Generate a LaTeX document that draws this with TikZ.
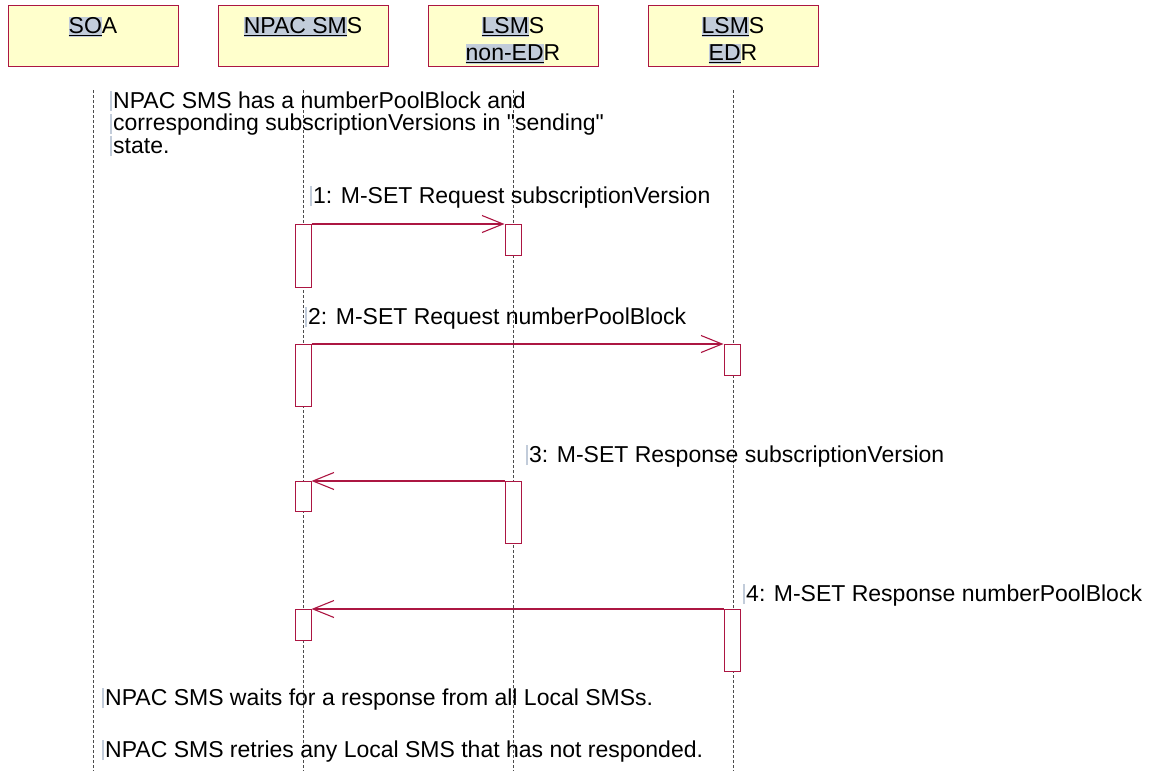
\documentclass[tikz,border=0pt]{standalone}
\usepackage{fontspec}
\setmainfont{Liberation Sans}[Ligatures=TeXOff]
\usetikzlibrary{arrows.meta}

\definecolor{umlred}{RGB}{172,22,66}
\definecolor{boxyellow}{RGB}{255,255,204}
\definecolor{hlgrey}{RGB}{194,204,218}

% highlighted and underlined part of a head text
\newsavebox\hlbox
\newcommand\hlpart[1]{\sbox\hlbox{#1}\begingroup\setlength{\fboxsep}{0pt}%
  \colorbox{hlgrey}{\rlap{\rule[-2.6pt]{\wd\hlbox}{1pt}}\rule[-3.5pt]{0pt}{20pt}\usebox\hlbox}\endgroup}
% light cursor mark in front of a text line
\newcommand\caret{\llap{\textcolor{hlgrey}{\rule[-3pt]{1.2pt}{20pt}}\hspace{1.6pt}}}

\tikzset{
  head/.style={draw=umlred, line width=1pt, fill=boxyellow,
    minimum width=170pt, minimum height=61pt, inner sep=0pt},
  headtext/.style={anchor=north, inner sep=0pt, yshift=-12pt, align=center,
    font=\fontsize{23}{27}\selectfont},
  lifeline/.style={draw=black!70, line width=0.8pt, dash pattern=on 3pt off 2pt},
  activation/.style={draw=umlred, line width=1pt, fill=white,
    minimum width=16pt, inner sep=0pt, anchor=north},
  msg/.style={draw=umlred, line width=1.1pt, -{Straight Barb[length=21pt,width=17pt]}},
  msgtext/.style={anchor=base west, inner sep=0pt},
  note/.style={anchor=base west, inner sep=0pt, align=left,
    font=\fontsize{23}{22.5}\selectfont}
}

\begin{document}
\begin{tikzpicture}[x=1pt, y=-1pt, font=\fontsize{23}{25}\selectfont]
    \useasboundingbox (0,0) rectangle (1150,771);

    % Objekte
    \node[head] (soa)   at (93,35.5)  {};
    \node[head] (npac)  at (303,35.5) {};
    \node[head] (lsmsn) at (513,35.5) {};
    \node[head] (lsmse) at (733,35.5) {};
    \node[headtext] at (soa.north)   {\hlpart{SO}A};
    \node[headtext] at (npac.north)  {\hlpart{NPAC SM}S};
    \node[headtext] at (lsmsn.north) {\hlpart{LSM}S\\\hlpart{non-ED}R};
    \node[headtext] at (lsmse.north) {\hlpart{LSM}S\\\hlpart{ED}R};

    % Lebenslinien
    \foreach \h in {soa,npac,lsmsn,lsmse}
        \draw[lifeline] (\h.south |- 0,90) -- (\h.south |- 0,771);

    % Aktivierungen
    \node[activation, minimum height=63pt] (npa1) at (303,224) {};
    \node[activation, minimum height=62pt] (npa2) at (303,344) {};
    \node[activation, minimum height=30pt] (npa3) at (303,481) {};
    \node[activation, minimum height=31pt] (npa4) at (303,609) {};
    \node[activation, minimum height=31pt] (lna1) at (513,224) {};
    \node[activation, minimum height=62pt] (lna2) at (513,481) {};
    \node[activation, minimum height=31pt] (lea1) at (732,344) {};
    \node[activation, minimum height=62pt] (lea2) at (732,609) {};

    % Nachrichten
    \draw[msg] (npa1.north east) -- (lna1.north west);
    \draw[msg] (npa2.north east) -- (lea1.north west);
    \draw[msg] (lna2.north west) -- (npa3.north east);
    \draw[msg] (lea2.north west) -- (npa4.north east);
    \node[msgtext] (m1) at (313,203) {\caret 1: M-SET Request subscriptionVersion};
    \node[msgtext] (m2) at (308,324) {\caret 2: M-SET Request numberPoolBlock};
    \node[msgtext] (m3) at (529,462) {\caret 3: M-SET Response subscriptionVersion};
    \node[msgtext] (m4) at (746,601) {\caret 4: M-SET Response numberPoolBlock};

    % Notizen
    \node[note] (n1) at (113,153) {\caret NPAC SMS has a numberPoolBlock and\\
        \caret corresponding subscriptionVersions in "sending"\\
        \caret state.};
    \node[note] (n2) at (105,705) {\caret NPAC SMS waits for a response from all Local SMSs.};
    \node[note] (n3) at (105,757) {\caret NPAC SMS retries any Local SMS that has not responded.};
\end{tikzpicture}
\end{document}
